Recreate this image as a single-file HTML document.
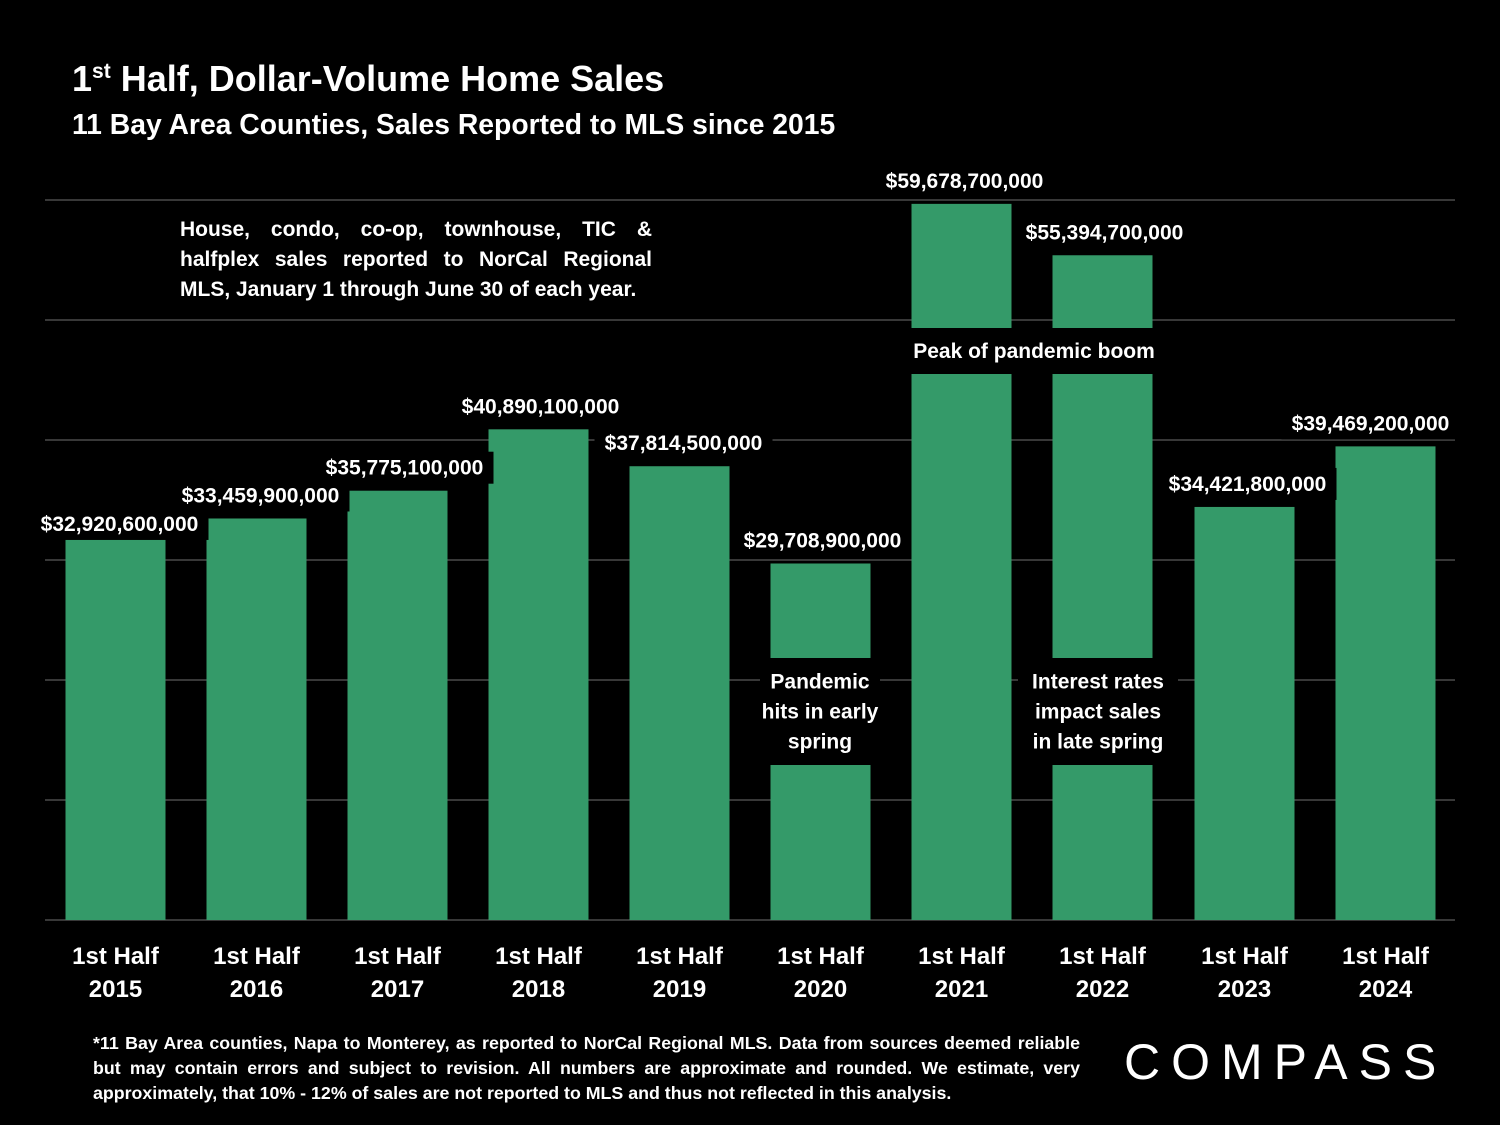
<!DOCTYPE html>
<html><head><meta charset="utf-8">
<style>
body{margin:0;background:#000;width:1500px;height:1125px;overflow:hidden;font-family:"Liberation Sans",sans-serif;color:#fff}
.t{position:absolute;font-weight:bold;white-space:nowrap}
</style></head><body>
<div class="t" style="left:72px;top:58px;font-size:36px">1<sup style="font-size:21px">st</sup> Half, Dollar-Volume Home Sales</div>
<div class="t" style="left:72px;top:108px;font-size:28.3px">11 Bay Area Counties, Sales Reported to MLS since 2015</div>
<svg id="chart" width="1500" height="1125" style="position:absolute;left:0;top:0"></svg>
<div class="t" style="left:180px;top:215px;width:472px;font-size:21px;line-height:30px;white-space:normal;text-align:justify;text-align-last:left">House, condo, co-op, townhouse, TIC &amp; halfplex sales reported to NorCal Regional MLS, January 1 through June 30 of each year.</div>
<div class="t" style="left:93px;top:1031px;width:987px;font-size:17.8px;line-height:25px;white-space:normal;text-align:justify;text-align-last:left">*11 Bay Area counties, Napa to Monterey, as reported to NorCal Regional MLS. Data from sources deemed reliable but may contain errors and subject to revision. All numbers are approximate and rounded. We estimate, very approximately, that 10% - 12% of sales are not reported to MLS and thus not reflected in this analysis.</div>
<div class="t" style="left:1124px;top:1033px;font-size:50px;font-weight:normal;letter-spacing:11px">COMPASS</div>
<script>
const categories=["2015","2016","2017","2018","2019","2020","2021","2022","2023","2024"];
const values=[32920600000,33459900000,35775100000,40890100000,37814500000,29708900000,59678700000,55394700000,34421800000,39469200000];
const valueLabels=["$32,920,600,000","$33,459,900,000","$35,775,100,000","$40,890,100,000","$37,814,500,000","$29,708,900,000","$59,678,700,000","$55,394,700,000","$34,421,800,000","$39,469,200,000"];
const gridTicks=[0,10e9,20e9,30e9,40e9,50e9,60e9];
const NS="http://www.w3.org/2000/svg",svg=document.getElementById('chart');
const x0=45,band=141,baseY=920,topY=200,maxV=60e9;
const y=v=>baseY-(v/maxV)*(baseY-topY);
const xc=i=>x0+band*i+band/2+(i>7?1:0);
function mk(t,a){const e=document.createElementNS(NS,t);for(const k in a)e.setAttribute(k,a[k]);svg.appendChild(e);return e;}
gridTicks.forEach(v=>{const l=mk('line',{x1:45,x2:1455,y1:y(v),y2:y(v),stroke:'#4a4a4a','stroke-width':1.5});

});
categories.forEach((c,i)=>{
 const r=mk('rect',{x:xc(i)-50,y:y(values[i]),width:100,height:baseY-y(values[i]),fill:'#349a69'});
 
 
 const t=mk('text',{x:xc(i),y:956,'text-anchor':'middle','font-size':24,'font-weight':'bold',fill:'#fff'});
 
 
 t.innerHTML='<tspan x="'+xc(i)+'" dy="8">1st Half</tspan><tspan x="'+xc(i)+'" dy="33">'+c+'</tspan>';
});
function ann(x,yy,w,h,lines,name,fs){const g=mk('rect',{x:x,y:yy,width:w,height:h,fill:'#000'});


lines.forEach((s,k)=>{const t=mk('text',{x:x+w/2,y:yy+h/2+7+(k-(lines.length-1)/2)*30,'text-anchor':'middle','font-size':fs,'font-weight':'bold',fill:'#fff'});t.textContent=s;

});}
ann(760,658,120,107,["Pandemic","hits in early","spring"],'annotation-2020',21);
ann(1018,658,160,107,["Interest rates","impact sales","in late spring"],'annotation-2022',21);
ann(898,328,272,46,["Peak of pandemic boom"],'annotation-peak',21);
const dxs=[4,4,7,2,4,2,3,2,3,-15];
values.forEach((v,i)=>{const cy=i===0?y(v)-1:y(v)-23;const cx=xc(i)+dxs[i];
 const w=178;ann(cx-w/2,cy-16,w,32,[valueLabels[i]],'value-label-'+categories[i],21);});
</script>
</body></html>
